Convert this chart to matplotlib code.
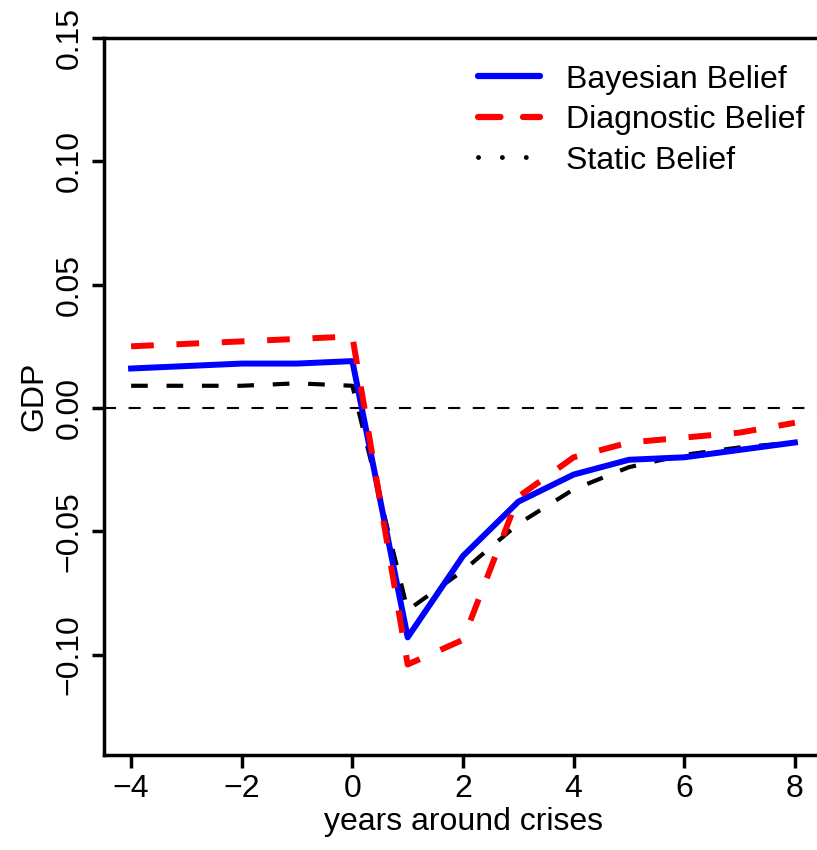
import matplotlib
matplotlib.use("Agg")
import matplotlib.pyplot as plt
from matplotlib.lines import Line2D

plt.rcParams['font.family'] = ['Liberation Sans', 'DejaVu Sans']

years = [-4, -3, -2, -1, 0, 1, 2, 3, 4, 5, 6, 7, 8]
bayesian = [0.016, 0.017, 0.018, 0.018, 0.019, -0.093, -0.060, -0.038, -0.027,
            -0.021, -0.020, -0.017, -0.014]
diagnostic = [0.025, 0.026, 0.027, 0.028, 0.029, -0.104, -0.094, -0.036, -0.020,
              -0.014, -0.012, -0.010, -0.006]
static = [0.009, 0.009, 0.009, 0.010, 0.009, -0.082, -0.066, -0.047, -0.033,
          -0.024, -0.019, -0.016, -0.014]
xticks = [-4, -2, 0, 2, 4, 6, 8]
yticks = [-0.10, -0.05, 0.00, 0.05, 0.10, 0.15]
labels = ["Bayesian Belief", "Diagnostic Belief", "Static Belief"]

W, H = 817, 850
FS = 23
fig = plt.figure(figsize=(W / 100, H / 100), dpi=100)
ax = fig.add_axes([104 / W, (H - 755) / H, (822 - 104) / W, (755 - 38) / H])

ax.axhline(0, color='black', lw=1.5, ls=(0, (5.8, 6)))
ax.plot(years, static, color='black', lw=3, ls=(0, (4, 4.5)))
ax.plot(years, bayesian, color='blue', lw=4.3)
ax.plot(years, diagnostic, color='red', lw=4.3, ls=(0, (3.8, 3.8)))

ax.set_xlim(-4.49, 8.49)
ax.set_ylim(-0.1407, 0.15)
ax.set_xticks(xticks)
ax.set_xticklabels([str(t).replace('-', '\u2212') for t in xticks])
ax.set_yticks(yticks)
ax.set_yticklabels([f"{t:.2f}".replace('-', '\u2212') for t in yticks],
                   rotation=90, va='center')
ax.tick_params(labelsize=FS, width=2.5, length=9, direction='out', pad=5)
ax.spines['right'].set_visible(False)
for s in ['left', 'bottom', 'top']:
    ax.spines[s].set_linewidth(2.5)
ax.set_xlabel("years around crises", fontsize=FS, labelpad=2)
ax.set_ylabel("GDP", fontsize=FS, labelpad=4)

handles = [Line2D([], [], color='blue', lw=4.5, solid_capstyle='round'),
           Line2D([], [], color='red', lw=4.5, ls=(0, (3.6, 3.6)), dash_capstyle='round'),
           Line2D([], [], color='black', lw=3.5, ls=(0, (0.01, 4.9)), dash_capstyle='round')]
ax.legend(handles, labels, loc='upper left', bbox_to_anchor=(0.521, 0.963),
          frameon=False, fontsize=FS, handlelength=1.95, handletextpad=0.8,
          labelspacing=0.33, borderpad=0, borderaxespad=0)

fig.savefig("out.png", dpi=100)
